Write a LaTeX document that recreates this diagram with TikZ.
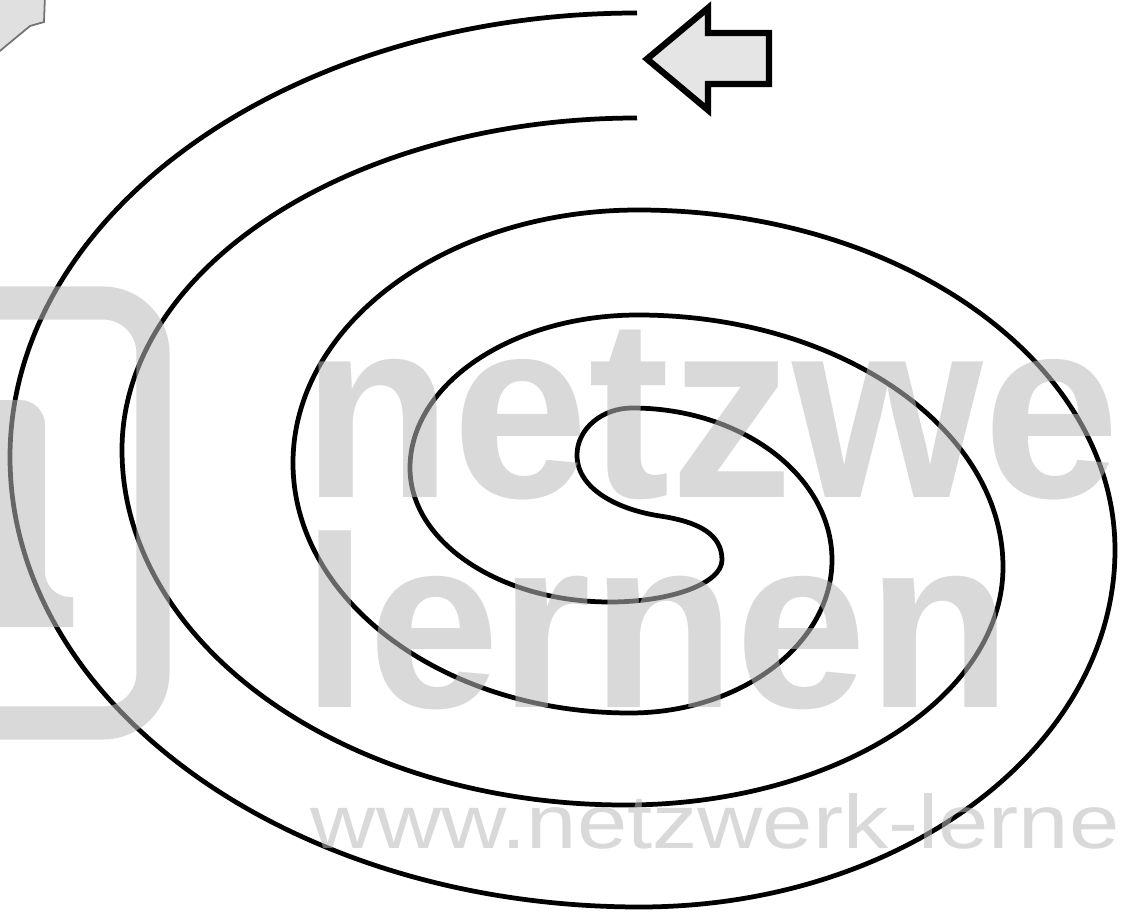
\documentclass[tikz,border=0pt]{standalone}
\usepackage{fontspec}
\setmainfont{Liberation Sans}
\begin{document}
\begin{tikzpicture}[x=0.01cm,y=-0.01cm,
  spiral/.style={line width=1.35pt, line join=round},
  wm/.style={black!27, opacity=0.55},
  wmtext/.style={text=black!27, text opacity=0.55, inner sep=0pt, anchor=base west},
  arrowshape/.style={draw=black, fill=black!10, line width=1.8pt, line join=miter},
  cornershape/.style={draw=black!55, fill=black!12, line width=0.5pt}]
\useasboundingbox (0,0) rectangle (1123,915);
\fill[white] (0,0) rectangle (1123,915);

% key points of the double spiral
\coordinate (S0) at (637,118);
\coordinate (L1) at (122,450);
\coordinate (B1) at (625,805);
\coordinate (R1) at (1003,567);
\coordinate (T1) at (638,315);
\coordinate (L2) at (410,468);
\coordinate (B2) at (610,602);
\coordinate (R2) at (722,560);
\coordinate (M)  at (660,516);
\coordinate (L3) at (577,455);
\coordinate (T2) at (632,408);
\coordinate (R3) at (832,560);
\coordinate (B3) at (630,713);
\coordinate (L4) at (293,463);
\coordinate (T3) at (638,210);
\coordinate (R4) at (1115,550);
\coordinate (B4) at (640,907);
\coordinate (L5) at (10,457);
\coordinate (E)  at (637,13);

\draw[spiral] (S0)
  .. controls (353,118) and (122,267) .. (L1)
  .. controls (122,646) and (347,805) .. (B1)
  .. controls (834,805) and (1003,698) .. (R1)
  .. controls (1003,428) and (839,315) .. (T1)
  .. controls (512,315) and (410,384) .. (L2)
  .. controls (410,542) and (500,602) .. (B2)
  .. controls (672,602) and (722,583) .. (R2)
  .. controls (722,535) and (700,522) .. (M)
  .. controls (620,510) and (577,490) .. (L3)
  .. controls (577,429) and (602,408) .. (T2)
  .. controls (742,408) and (832,476) .. (R3)
  .. controls (832,644) and (741,713) .. (B3)
  .. controls (444,713) and (293,601) .. (L4)
  .. controls (293,323) and (448,210) .. (T3)
  .. controls (901,210) and (1115,362) .. (R4)
  .. controls (1115,747) and (902,907) .. (B4)
  .. controls (292,907) and (10,705) .. (L5)
  .. controls (10,212) and (291,13) .. (E);

% arrow
\draw[arrowshape] (647,59) -- (708,8) -- (708,33) -- (769,33) -- (769,84) -- (708,84) -- (708,110) -- cycle;

% corner fragment
\draw[cornershape] (-5,-5) -- (45,-5) -- (44,22) -- (30,26) -- (-5,55) -- cycle;

% watermark
\draw[wm, line width=9.4pt, rounded corners=0.5cm] (-20,303) -- (153,303) -- (153,723) -- (-20,723);
\fill[wm, rounded corners=0.25cm] (-10,400) -- (45,400) -- (45,597) [sharp corners] -- (73,597) -- (73,627) -- (-10,627) -- cycle;
\node[wmtext, xscale=0.955] (w1) at (302,497) {\fontsize{73}{73}\selectfont\bfseries netzwe};
\node[wmtext, xscale=0.92, yscale=0.95] (w2) at (302,707) {\fontsize{73}{73}\selectfont\bfseries lernen};
\node[wmtext, xscale=1.19] (w3) at (310,848) {\fontsize{21.6}{21.6}\selectfont www.netzwerk-lerne};
\end{tikzpicture}
\end{document}
